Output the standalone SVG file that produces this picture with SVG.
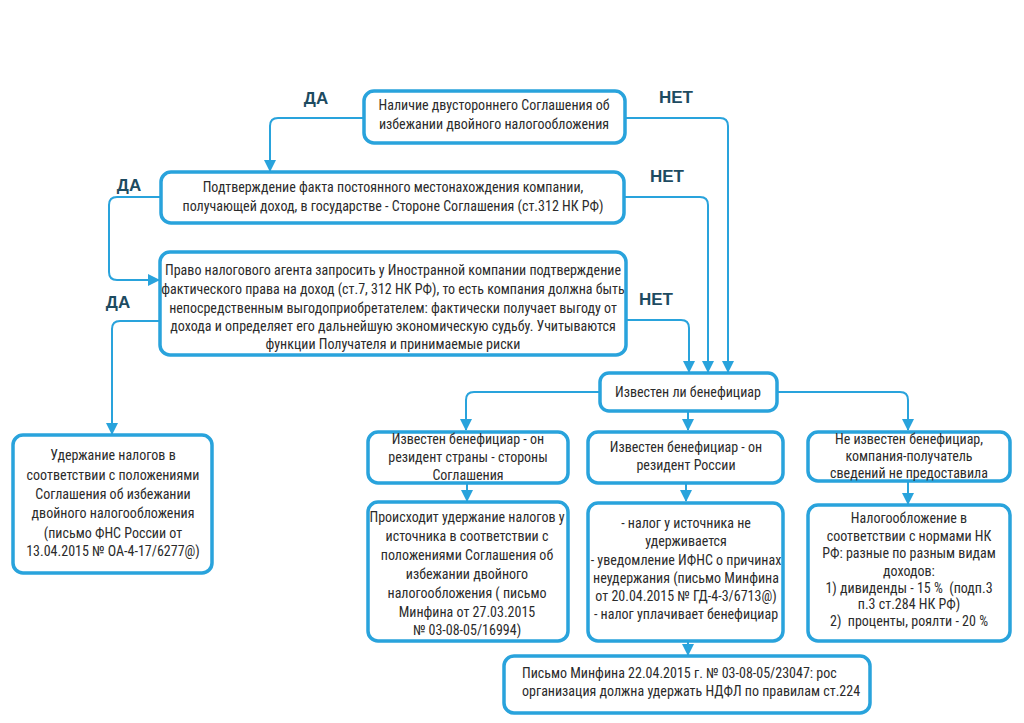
<svg xmlns="http://www.w3.org/2000/svg" width="1024" height="723" viewBox="0 0 1024 723">
<defs>
<marker id="ah" markerUnits="userSpaceOnUse" markerWidth="12" markerHeight="12" viewBox="0 0 12 12" refX="11" refY="6" orient="auto">
<path d="M0,0 L12,6 L0,12 Z" fill="#29a3dc"/>
</marker>
<style>
.box{fill:#ffffff;stroke:#29a3dc;stroke-width:3.5}
.con{fill:none;stroke:#29a3dc;stroke-width:2;marker-end:url(#ah)}
.t{font-family:"Liberation Sans Narrow","Roboto Condensed","DejaVu Sans Condensed","Liberation Sans",sans-serif;font-size:14px;fill:#2b2b2b;text-anchor:middle}
.tl{text-anchor:start}
.lbl{font-family:"Liberation Sans Narrow","Liberation Sans",sans-serif;font-weight:bold;font-size:17px;fill:#1d4b61;text-anchor:middle}
</style>
</defs>
<rect width="1024" height="723" fill="#ffffff"/>
<g id="connectors">
<path class="con" d="M364,118 H278 Q270,118 270,126 V171"/>
<path class="con" d="M625,118 H720 Q728,118 728,126 V372"/>
<path class="con" d="M624,197 H700 Q708,197 708,205 V372"/>
<path class="con" d="M626,320 H681 Q689,320 689,328 V372"/>
<path class="con" d="M161,197 H117 Q109,197 109,205 V272 Q109,280 117,280 H159"/>
<path class="con" d="M160,321 H120 Q112,321 112,329 V434"/>
<path class="con" d="M600,392 H474 Q466,392 466,400 V430"/>
<path class="con" d="M688,411 V430"/>
<path class="con" d="M777,392 H900 Q908,392 908,400 V430"/>
<path class="con" d="M467,484 V501"/>
<path class="con" d="M686,484 V501"/>
<path class="con" d="M908,481 V504"/>
<path class="con" d="M688,641 V655"/>
</g>
<g id="labels">
<text class="lbl" x="316" y="104">ДА</text>
<text class="lbl" x="676" y="103">НЕТ</text>
<text class="lbl" x="129" y="191">ДА</text>
<text class="lbl" x="667" y="182">НЕТ</text>
<text class="lbl" x="118" y="308">ДА</text>
<text class="lbl" x="656" y="305">НЕТ</text>
</g>
<g id="n1">
<rect class="box" x="364" y="91" width="261" height="52" rx="10"/>
<text class="t" x="494" y="110">Наличие двустороннего Соглашения об</text>
<text class="t" x="494" y="129">избежании двойного налогообложения</text>
</g>
<g id="n2">
<rect class="box" x="161" y="172" width="463" height="51" rx="10"/>
<text class="t" x="393" y="192">Подтверждение факта постоянного местонахождения компании,</text>
<text class="t" x="393" y="211">получающей доход, в государстве - Стороне Соглашения (ст.312 НК РФ)</text>
</g>
<g id="n3">
<rect class="box" x="160" y="252" width="466" height="103" rx="10"/>
<text class="t" x="393" y="275">Право налогового агента запросить у Иностранной компании подтверждение</text>
<text class="t" x="393" y="294">фактического права на доход (ст.7, 312 НК РФ), то есть компания должна быть</text>
<text class="t" x="393" y="313">непосредственным выгодоприобретателем: фактически получает выгоду от</text>
<text class="t" x="393" y="331">дохода и определяет его дальнейшую экономическую судьбу. Учитываются</text>
<text class="t" x="393" y="349">функции Получателя и принимаемые риски</text>
</g>
<g id="n4">
<rect class="box" x="600" y="373" width="177" height="38" rx="9"/>
<text class="t" x="688" y="397">Известен ли бенефициар</text>
</g>
<g id="n5">
<rect class="box" x="13" y="435" width="199" height="138" rx="10"/>
<text class="t" x="113" y="460">Удержание налогов в</text>
<text class="t" x="113" y="480">соответствии с положениями</text>
<text class="t" x="113" y="499">Соглашения об избежании</text>
<text class="t" x="113" y="518">двойного налогообложения</text>
<text class="t" x="113" y="538">(письмо ФНС России от</text>
<text class="t" x="113" y="556">13.04.2015 № ОА-4-17/6277@)</text>
</g>
<g id="n6">
<rect class="box" x="368" y="432" width="200" height="51" rx="10"/>
<text class="t" x="468" y="444">Известен бенефициар - он</text>
<text class="t" x="468" y="462">резидент страны - стороны</text>
<text class="t" x="468" y="480">Соглашения</text>
</g>
<g id="n7">
<rect class="box" x="588" y="432" width="195" height="51" rx="10"/>
<text class="t" x="686" y="452">Известен бенефициар - он</text>
<text class="t" x="686" y="470">резидент России</text>
</g>
<g id="n8">
<rect class="box" x="808" y="432" width="202" height="49" rx="10"/>
<text class="t" x="909" y="444">Не известен бенефициар,</text>
<text class="t" x="909" y="461">компания-получатель</text>
<text class="t" x="909" y="478">сведений не предоставила</text>
</g>
<g id="n9">
<rect class="box" x="368" y="502" width="200" height="139" rx="10"/>
<text class="t" x="467" y="522">Происходит удержание налогов у</text>
<text class="t" x="467" y="541">источника в соответствии с</text>
<text class="t" x="467" y="560">положениями Соглашения об</text>
<text class="t" x="467" y="579">избежании двойного</text>
<text class="t" x="467" y="598">налогообложения ( письмо</text>
<text class="t" x="467" y="617">Минфина от 27.03.2015</text>
<text class="t" x="467" y="635">№ 03-08-05/16994)</text>
</g>
<g id="n10">
<rect class="box" x="588" y="503" width="195" height="138" rx="10"/>
<text class="t" x="686" y="528">- налог у источника не</text>
<text class="t" x="686" y="546">удерживается</text>
<text class="t" x="686" y="565">- уведомление ИФНС о причинах</text>
<text class="t" x="686" y="583">неудержания (письмо Минфина</text>
<text class="t" x="686" y="601">от 20.04.2015 № ГД-4-3/6713@)</text>
<text class="t" x="686" y="619">- налог уплачивает бенефициар</text>
</g>
<g id="n11">
<rect class="box" x="808" y="505" width="202" height="136" rx="10"/>
<text class="t" x="909" y="523">Налогообложение в</text>
<text class="t" x="909" y="541">соответствии с нормами НК</text>
<text class="t" x="909" y="558">РФ: разные по разным видам</text>
<text class="t" x="909" y="576">доходов:</text>
<text class="t" x="909" y="593" xml:space="preserve">1) дивиденды - 15 %  (подп.3</text>
<text class="t" x="909" y="609">п.3 ст.284 НК РФ)</text>
<text class="t" x="909" y="626" xml:space="preserve">2)  проценты, роялти - 20 %</text>
</g>
<g id="n12">
<rect class="box" x="504" y="656" width="366" height="57" rx="10"/>
<text class="t tl" x="522" y="678">Письмо Минфина 22.04.2015 г. № 03-08-05/23047: рос</text>
<text class="t tl" x="522" y="696">организация должна удержать НДФЛ по правилам ст.224</text>
</g>
</svg>
